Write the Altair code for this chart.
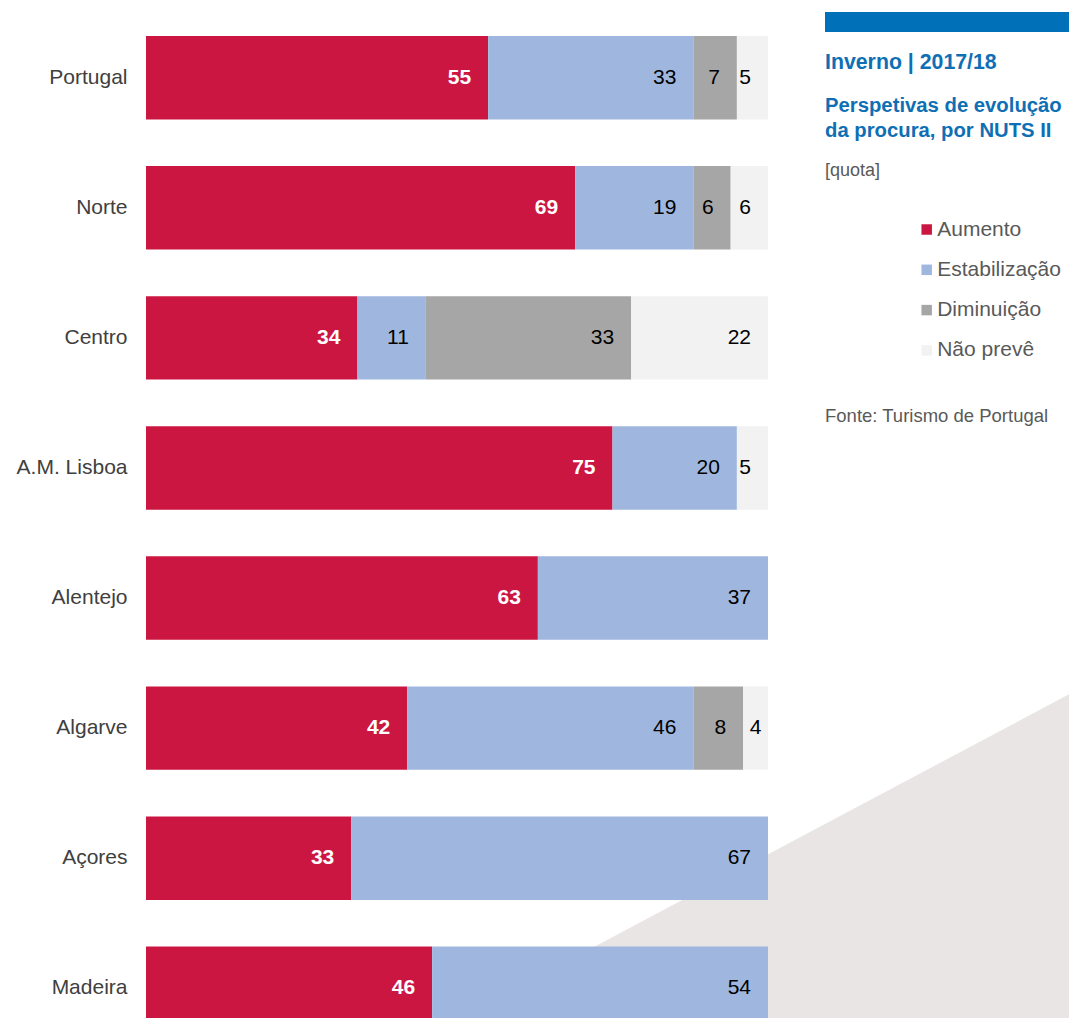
import altair as alt
import pandas as pd

regions = ["Portugal", "Norte", "Centro", "A.M. Lisboa", "Alentejo", "Algarve", "Açores", "Madeira"]
categories = ["Aumento", "Estabilização", "Diminuição", "Não prevê"]
colors = ["#CC1642", "#9FB7DF", "#A6A6A6", "#F2F2F2"]

aumento = [55, 69, 34, 75, 63, 42, 33, 46]
estabilizacao = [33, 19, 11, 20, 37, 46, 67, 54]
diminuicao = [7, 6, 33, 0, 0, 8, 0, 0]
nao_preve = [5, 6, 22, 5, 0, 4, 0, 0]

title_1 = "Inverno | 2017/18"
title_2 = ["Perspetivas de evolução", "da procura, por NUTS II"]
unit_note = "[quota]"
source_note = "Fonte: Turismo de Portugal"

FONT = "Liberation Sans"

rows = []
series = [aumento, estabilizacao, diminuicao, nao_preve]
for i, r in enumerate(regions):
    cum = 0
    for k, cat in enumerate(categories):
        v = series[k][i]
        start = cum
        cum += v
        rows.append({"region": r, "cat": cat, "order": k, "value": v,
                     "end": cum, "mid": start + v / 2, "label": str(v)})
df = pd.DataFrame(rows)
bars_df = df[df["value"] > 0]

base_y = alt.Y("region:N", sort=regions,
               scale=alt.Scale(paddingInner=0.359, paddingOuter=0.177, range=[0, 1040]),
               axis=alt.Axis(title=None, ticks=False, domain=False, labelFont=FONT,
                             labelFontSize=21, labelColor="#404040", labelPadding=19))
xscale = alt.Scale(domain=[0, 100])

tri = alt.Chart(pd.DataFrame({"k": [0]})).mark_point(
    shape="M0,0 L0,-1 L-1.88,0 Z", filled=True, fill="#E9E5E4", strokeWidth=0,
    opacity=1, size=451584
).encode(x=alt.value(931), y=alt.value(1013))

bars = alt.Chart(bars_df).mark_bar().encode(
    y=base_y,
    x=alt.X("value:Q", stack="zero", scale=xscale, axis=None),
    order=alt.Order("order:Q"),
    color=alt.Color("cat:N", scale=alt.Scale(domain=categories, range=colors),
                    legend=alt.Legend(orient="none", legendX=770.2, legendY=206, title=None,
                                      symbolType="square", symbolSize=110, labelFontSize=21,
                                      labelFont=FONT, labelColor="#595959", rowPadding=18.3,
                                      labelOffset=0, padding=0, symbolStrokeWidth=0,
                                      symbolOpacity=1)),
)

white_lbl = alt.Chart(bars_df[bars_df["cat"] == "Aumento"]).mark_text(
    align="right", baseline="middle", dx=-17, font=FONT, fontSize=21, fontWeight="bold", color="white"
).encode(y=base_y, x=alt.X("end:Q", scale=xscale, axis=None), text="label:N")

dark_df = bars_df[bars_df["cat"] != "Aumento"]
dark_lbl = alt.Chart(dark_df[dark_df["value"] >= 5]).mark_text(
    align="right", baseline="middle", dx=-17, font=FONT, fontSize=21, color="black"
).encode(y=base_y, x=alt.X("end:Q", scale=xscale, axis=None), text="label:N")

dark_lbl_c = alt.Chart(dark_df[dark_df["value"] < 5]).mark_text(
    align="center", baseline="middle", font=FONT, fontSize=21, color="black"
).encode(y=base_y, x=alt.X("mid:Q", scale=xscale, axis=None), text="label:N")

one = pd.DataFrame({"k": [0]})
blue_bar = alt.Chart(one).mark_rect(color="#0070B8").encode(
    x=alt.value(679), x2=alt.value(940), y=alt.value(-1), y2=alt.value(19))

t1 = alt.Chart(one).mark_text(align="left", baseline="alphabetic", font=FONT, fontSize=21.3,
                              fontWeight="bold", color="#0F6FB5").encode(
    x=alt.value(679), y=alt.value(56), text=alt.value(title_1))
t2 = alt.Chart(one).mark_text(align="left", baseline="alphabetic", font=FONT, fontSize=20.3,
                              fontWeight="bold", color="#0F6FB5", lineHeight=25).encode(
    x=alt.value(679), y=alt.value(99), text=alt.value(title_2))
t3 = alt.Chart(one).mark_text(align="left", baseline="alphabetic", font=FONT, fontSize=18,
                              color="#595959").encode(
    x=alt.value(679), y=alt.value(163), text=alt.value(unit_note))
t4 = alt.Chart(one).mark_text(align="left", baseline="middle", font=FONT, fontSize=18.5,
                              color="#595959").encode(
    x=alt.value(679), y=alt.value(403), text=alt.value(source_note))

chart = alt.layer(tri, bars, white_lbl, dark_lbl, dark_lbl_c, blue_bar, t1, t2, t3, t4).properties(
    width=622, height=1005,
    autosize=alt.AutoSizeParams(type="none"),
    padding={"left": 138, "top": 5, "right": 301, "bottom": 0},
    background="white",
).configure_view(stroke=None)

chart.save("out.html", embed_options={"renderer": "svg", "actions": False})
